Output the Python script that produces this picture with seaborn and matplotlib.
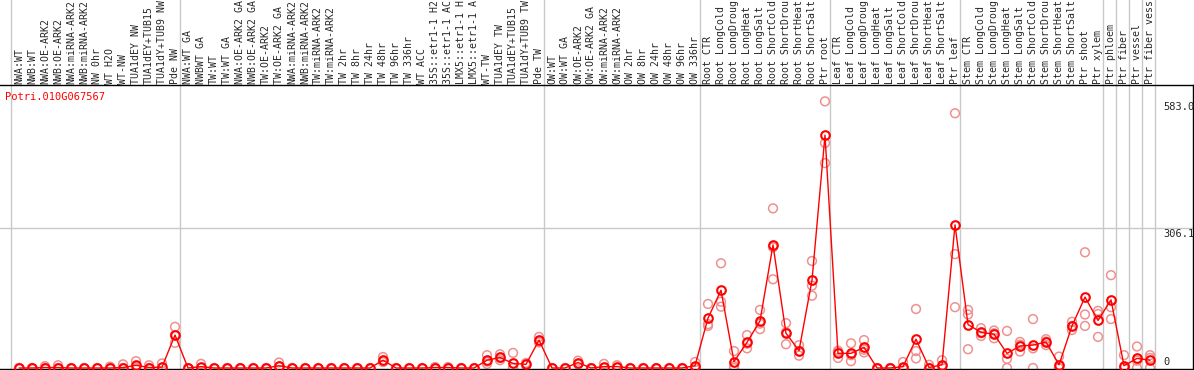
import numpy as np
import pandas as pd
import seaborn as sns
import matplotlib.pyplot as plt
from matplotlib.transforms import blended_transform_factory

gene_id = "Potri.010G067567"

# sample names as the chart prints them (cut to 14 characters)
labels = [
    "NWA:WT", "NWB:WT", "NWA:OE-ARK2", "NWB:OE-ARK2", "NWA:miRNA-ARK2", "NWB:miRNA-ARK2",
    "NW 0hr", "WT H2O", "WT-NW", "TUA1dEY NW", "TUA1dEY+TUB15", "TUA1dY+TUB9 NW", "Pde NW",
    "NWA:WT GA", "NWBWT GA", "TW:WT", "TW:WT GA", "NWA:OE-ARK2 GA", "NWB:OE-ARK2 GA",
    "TW:OE-ARK2", "TW:OE-ARK2 GA", "NWA:miRNA-ARK2", "NWB:miRNA-ARK2", "TW:miRNA-ARK2",
    "TW:miRNA-ARK2", "TW 2hr", "TW 8hr", "TW 24hr", "TW 48hr", "TW 96hr", "TW 336hr", "WT ACC",
    "35S::etr1-1 H2", "35S::etr1-1 AC", "LMX5::etr1-1 H", "LMX5::etr1-1 A", "WT-TW",
    "TUA1dEY TW", "TUA1dEY+TUB15", "TUA1dY+TUB9 TW", "Pde TW",
    "OW:WT", "OW:WT GA", "OW:OE-ARK2", "OW:OE-ARK2 GA", "OW:miRNA-ARK2", "OW:miRNA-ARK2",
    "OW 2hr", "OW 8hr", "OW 24hr", "OW 48hr", "OW 96hr", "OW 336hr",
    "Root CTR", "Root LongCold", "Root LongDroug", "Root LongHeat", "Root LongSalt",
    "Root ShortCold", "Root ShortDrou", "Root ShortHeat", "Root ShortSalt", "Ptr root",
    "Leaf CTR", "Leaf LongCold", "Leaf LongDroug", "Leaf LongHeat", "Leaf LongSalt",
    "Leaf ShortCold", "Leaf ShortDrou", "Leaf ShortHeat", "Leaf ShortSalt", "Ptr leaf",
    "Stem CTR", "Stem LongCold", "Stem LongDroug", "Stem LongHeat", "Stem LongSalt",
    "Stem ShortCold", "Stem ShortDrou", "Stem ShortHeat", "Stem ShortSalt", "Ptr shoot",
    "Ptr xylem", "Ptr phloem", "Ptr fiber", "Ptr vessel", "Ptr fiber vess",
]

means = [
    0, 0, 1, 1, 0, 0, 0, 0, 1, 6, 1, 2, 72,
    0, 3, 0, 0, 0, 0, 0, 5, 0, 0, 0, 0, 0, 0, 0, 17, 0, 0, 0, 1, 1, 0, 0, 17, 23, 10, 8, 61,
    0, 0, 12, 0, 3, 3, 0, 0, 0, 0, 0, 5,
    109, 170, 14, 56, 103, 269, 76, 38, 192, 509,
    32, 32, 45, 0, 0, 3, 63, 1, 7, 313,
    95, 78, 74, 32, 48, 50, 57, 7, 92, 155,
    104, 149, 5, 21, 17,
]

replicates = [
    [0, 0], [0, 0], [4, 0], [6, 0], [0], [0], [0], [3, 0], [8, 0], [15, 0, 3], [6, 0], [10, 0],
    [90, 72, 55],
    [0], [9, 0], [0], [0], [0], [0], [0], [12, 3], [0], [0], [0], [0], [0], [0], [0],
    [24, 14, 13], [0], [0], [0], [2, 0], [2, 0], [0], [0], [28, 9, 14], [30, 17, 22],
    [33, 0, 0], [11, 6], [68, 56, 59],
    [0], [0], [16, 8], [0], [9, 0], [6, 0], [0], [0], [0], [0], [0], [13, 0],
    [140, 92, 96], [229, 134, 145], [37, 4, 0], [72, 43, 53], [127, 85, 97],
    [349, 194, 264], [98, 52, 78], [50, 27, 37], [234, 180, 158], [583, 492, 448],
    [38, 22, 35], [54, 15, 28], [61, 34, 40], [0], [0], [13, 0], [129, 37, 21], [7, 0],
    [17, 3], [557, 249, 133],
    [127, 117, 41], [87, 70, 76], [82, 65, 76], [81, 20, 0], [57, 36, 51], [107, 0, 43],
    [63, 50, 58], [25, 0, 0], [101, 83, 92], [253, 117, 92],
    [125, 68, 118], [203, 133, 107], [28, 0], [47, 0, 16], [28, 22, 0],
]

# last category index of each block (vertical separators)
group_ends = [-1, 12, 40, 52, 62, 72, 83, 84, 85, 86, 87]
y_ticks = [0, 306.1, 583.0]

sns.set_style("white")
plt.rcParams['font.family'] = ['DejaVu Sans Mono']

W, H = 1194, 370
fig = plt.figure(figsize=(W / 100, H / 100), dpi=100)
# plot box in pixels: x 0..1193, y 85..369
top_px, bot_px, right_px = 85, 369, 1193
ax = fig.add_axes([0, (H - bot_px) / H, right_px / W, (bot_px - top_px) / H])

pos = np.arange(len(labels))
rows = [(i, v) for i, reps in enumerate(replicates) for v in reps]
rep_df = pd.DataFrame(rows, columns=["pos", "value"])

sns.scatterplot(data=rep_df, x="pos", y="value", marker="o", s=40,
                facecolor="none", edgecolor="#ef9090", linewidth=1.1, ax=ax, zorder=2)
sns.lineplot(x=pos, y=means, estimator=None, color="red", lw=1, marker="o",
             markersize=6.2, markerfacecolor="none", markeredgecolor="red",
             markeredgewidth=1.5, ax=ax, zorder=3)

# pixel mapping: category i at x = 19 + 13*i, value 0 at y = 368, 306.1 at y = 228
px_per_unit = (368 - 228) / 306.1
ax.set_xlim(-19 / 13, (right_px - 19) / 13)
ax.set_ylim(-(bot_px - 368) / px_per_unit, (368 - top_px) / px_per_unit)

ax.axhline(306.1, color="#c8c8c8", lw=1, zorder=0)
ext = 1 + top_px / (bot_px - top_px)
for g in group_ends:
    ax.axvline(g + 0.4, ymin=0, ymax=ext, clip_on=False, color="#c8c8c8", lw=1, zorder=0)

ax.xaxis.tick_top()
ax.set_xticks(pos)
ax.set_xticklabels(labels, rotation=90, fontsize=7.1)
ax.tick_params(axis="x", length=0, pad=1)
ax.set_yticks([])
ax.set_xlabel("")
ax.set_ylabel("")

for side in ["top", "bottom", "right"]:
    ax.spines[side].set_color("black")
    ax.spines[side].set_linewidth(1)
ax.spines["left"].set_visible(False)

trans = blended_transform_factory(ax.transAxes, ax.transData)
tx = 1163 / right_px
for t in y_ticks:
    txt = "0" if t == 0 else f"{t:.1f}"
    if t == 0:
        ax.text(tx, t + 1.5, txt, transform=trans, ha="left", va="bottom", fontsize=7.5)
    else:
        ax.text(tx, t - 2, txt, transform=trans, ha="left", va="top", fontsize=7.5)

ax.text(5 / right_px, 1 - (97 - top_px) / (bot_px - top_px), gene_id, transform=ax.transAxes,
        color="red", ha="left", va="center", fontsize=7.5)

fig.savefig("out.png", dpi=100)
